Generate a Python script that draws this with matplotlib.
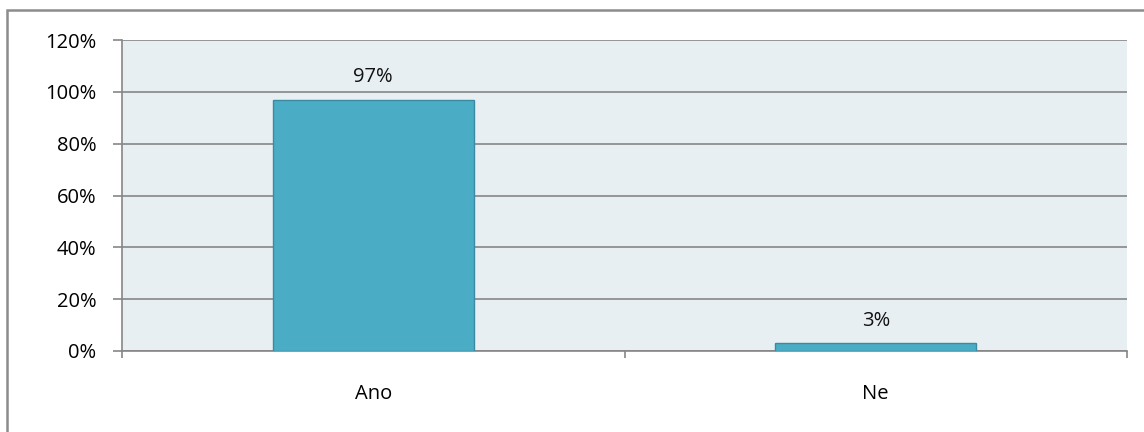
import matplotlib.pyplot as plt
from matplotlib.patches import Rectangle
from matplotlib.ticker import FixedLocator

plt.rcParams['font.family'] = ['Open Sans', 'DejaVu Sans']

categories = ['Ano', 'Ne']
shares = [97, 3]
yticks = [0, 20, 40, 60, 80, 100, 120]

grid_col = '#868686'
fs = 14.5

fig = plt.figure(figsize=(11.44, 4.32), dpi=100)
ax = fig.add_axes([122 / 1144, 1 - 351 / 432, 1005 / 1144, 311 / 432])
ax.set_facecolor('#E8EFF3')

# outer chart frame (runs off the right and bottom edges)
fig.patches.append(Rectangle((7 / 1144, -10 / 432), 1150 / 1144, 432 / 432,
                             transform=fig.transFigure, fill=False,
                             edgecolor='#8C8C8C', linewidth=1.8))

x = range(len(categories))
bars = ax.bar(x, shares, width=0.4, color='#4BACC6', edgecolor='#3A8BA1', linewidth=1, zorder=3)
for xi, v in zip(x, shares):
    ax.text(xi, v + 4.8, f'{v}%', ha='center', va='bottom', fontsize=fs, color='#111111')

ax.set_xlim(-0.5, 1.5)
ax.set_ylim(0, 120)
ax.set_yticks(yticks)
ax.set_yticklabels([f'{t}%' for t in yticks], fontsize=fs)
ax.yaxis.grid(True, color=grid_col, linewidth=1.2, zorder=1)
ax.tick_params(axis='y', length=6.5, color=grid_col, width=1.2, pad=12)

ax.set_xticks(list(x))
ax.set_xticklabels(categories, fontsize=fs)
ax.tick_params(axis='x', which='major', length=0, pad=24)
ax.xaxis.set_minor_locator(FixedLocator([-0.5, 0.5, 1.5]))
ax.tick_params(axis='x', which='minor', length=5, color=grid_col, width=1.2)

for side in ['top', 'right']:
    ax.spines[side].set_visible(False)
for side in ['left', 'bottom']:
    ax.spines[side].set_color(grid_col)
    ax.spines[side].set_linewidth(1.2)

fig.savefig('out.png', dpi=100)
